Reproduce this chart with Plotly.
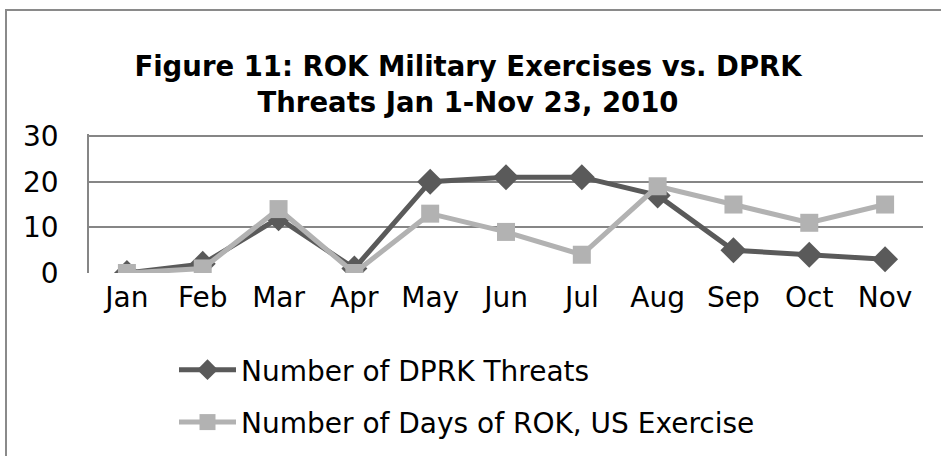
import plotly.graph_objects as go

months = ["Jan", "Feb", "Mar", "Apr", "May", "Jun", "Jul", "Aug", "Sep", "Oct", "Nov"]
dprk_threats = [0, 2, 12, 1, 20, 21, 21, 17, 5, 4, 3]
rok_us_days = [0, 1, 14, 0, 13, 9, 4, 19, 15, 11, 15]
y_ticks = [0, 10, 20, 30]

FONT = "DejaVu Sans"
L, R, T, B = 89, 18, 134, 183
W, H = 941, 456
pw = W - L - R
ph = H - T - B

def px_x(p):
    return (p - L) / pw

def px_y(p):
    return (H - B - p) / ph

fig = go.Figure()
fig.add_trace(go.Scatter(
    x=months, y=dprk_threats, mode="lines+markers",
    name="Number of DPRK Threats",
    line=dict(color="#5a5a5a", width=5),
    marker=dict(symbol="diamond", size=20, color="#5a5a5a"),
    legendgroup="a",
))
fig.add_trace(go.Scatter(
    x=months, y=rok_us_days, mode="lines+markers",
    name="Number of Days of ROK, US Exercise",
    line=dict(color="#b2b2b2", width=5),
    marker=dict(symbol="square", size=18, color="#b2b2b2"),
    legendgroup="b",
))

fig.add_shape(type="rect", xref="paper", yref="paper",
              x0=px_x(6), x1=px_x(1100), y0=px_y(700), y1=px_y(10),
              line=dict(color="#8a8a8a", width=2), fillcolor="rgba(0,0,0,0)", layer="below")

fig.update_layout(
    width=W, height=H,
    margin=dict(l=L, r=R, t=T, b=B, autoexpand=False),
    paper_bgcolor="white", plot_bgcolor="white",
    font=dict(family=FONT, color="black", size=28),
    title=dict(
        text="<b>Figure 11: ROK Military Exercises vs. DPRK<br>Threats Jan 1-Nov 23, 2010</b>",
        x=468 / W, xanchor="center",
        y=1 - 76 / H, yanchor="top",
        font=dict(family=FONT, size=27.5, color="black"),
    ),
    xaxis=dict(
        type="category", range=[-0.5, 10.5], showgrid=False, zeroline=False,
        showline=False, ticks="", tickfont=dict(size=28),
        ticklabelstandoff=5,
    ),
    yaxis=dict(
        range=[0, 30.45], tickvals=y_ticks, showgrid=True,
        gridcolor="#868686", gridwidth=1.5, zeroline=False,
        showline=True, linecolor="#868686", linewidth=1.5,
        ticks="", tickfont=dict(size=28), ticklabelstandoff=23,
    ),
    showlegend=True,
    legend=dict(
        x=px_x(174), y=px_y(345), xanchor="left", yanchor="top",
        orientation="v", font=dict(size=28), itemwidth=57,
        tracegroupgap=13, bgcolor="rgba(0,0,0,0)",
    ),
)

fig.write_html("out.html", config={"displayModeBar": False},
               post_script="document.body.style.margin='0';document.body.style.overflow='hidden';")
